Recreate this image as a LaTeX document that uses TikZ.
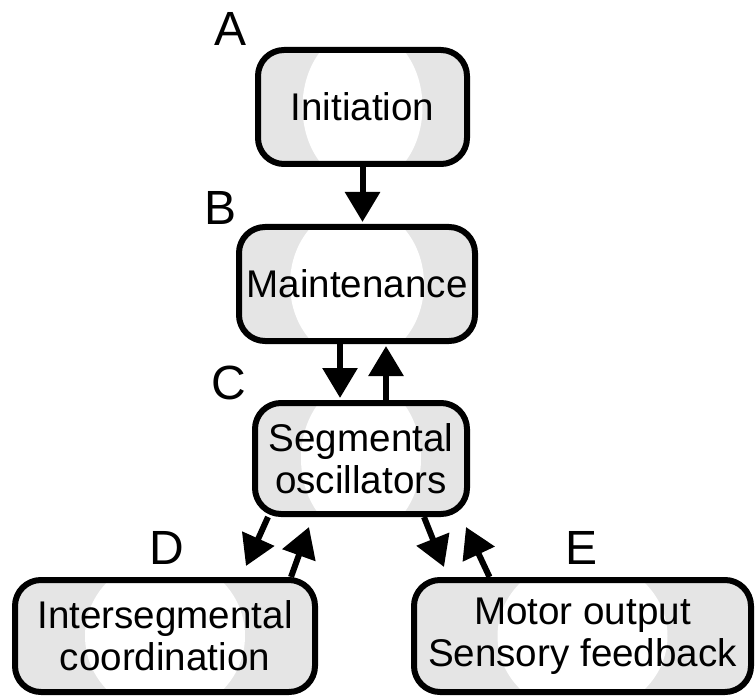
\documentclass[tikz,border=0pt]{standalone}
\usepackage{fontspec}
\setmainfont{Liberation Sans}
\usetikzlibrary{arrows.meta}
\definecolor{boxgray}{gray}{0.9}
\begin{document}
\begin{tikzpicture}[x=1pt,y=-1pt,
  gbox/.style={draw, line width=6pt, rounded corners=26pt, fill=boxgray,
    inner sep=0pt, align=center, font=\fontsize{38.6}{42}\selectfont,
    path picture={\fill[white] (path picture bounding box.center)
      ellipse [x radius=#1, y radius=78pt];}},
  lbl/.style={font=\fontsize{48}{48}\selectfont, inner sep=0pt},
  arr/.style={line width=6pt, shorten >=2pt, -{Triangle[length=30pt,width=34pt]}}]
\useasboundingbox (0,0) rectangle (756,698);

\node[gbox=60pt, minimum width=209pt, minimum height=114pt] (A) at (362.5,107) {Initiation};
\node[gbox=67pt, minimum width=236pt, minimum height=114pt] (B) at (357,284) {Maintenance};
\node[gbox=60pt, minimum width=212pt, minimum height=111pt] (C) at (361,458.5) {Segmental\\oscillators};
\node[gbox=80pt, minimum width=300pt, minimum height=112pt] (D) at (165,636) {Intersegmental\\coordination};
\node[gbox=85pt, minimum width=337pt, minimum height=112pt] (E) at (582.5,636) {Motor output\\Sensory feedback};

\node[lbl] (la) at (231,29) {A};
\node[lbl] (lb) at (221,208) {B};
\node[lbl] (lc) at (229,383) {C};
\node[lbl] (ld) at (167,548) {D};
\node[lbl] (le) at (582,548) {E};

\coordinate (cdtip) at (246,566);
\coordinate (dctip) at (309,527);
\coordinate (cetip) at (444,567);
\coordinate (ectip) at (466,527);

\draw[arr] (A.south) -- (A.south |- B.north);
\draw[arr] ([xshift=-17pt]B.south) -- ([xshift=-17pt]B.south |- C.north);
\draw[arr] ([xshift=25pt]C.north) -- ([xshift=25pt]C.north |- B.south);
\draw[arr, shorten >=0pt] ([xshift=-93pt]C.south) -- (cdtip);
\draw[arr, shorten >=0pt] ([xshift=126pt]D.north) -- (dctip);
\draw[arr, shorten >=0pt] ([xshift=63pt]C.south) -- (cetip);
\draw[arr, shorten >=0pt] ([xshift=-93pt]E.north) -- (ectip);
\end{tikzpicture}
\end{document}
